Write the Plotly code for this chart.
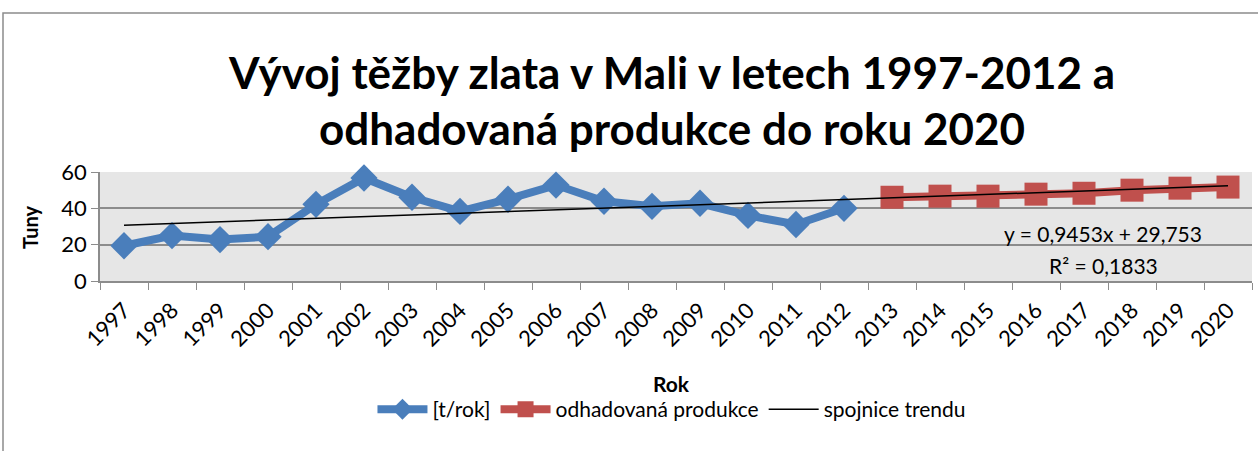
import plotly.graph_objects as go

# data
years = [str(y) for y in range(1997, 2021)]
actual_years = years[:16]
actual_t = [19.4, 25.0, 22.8, 24.4, 42.2, 56.7, 46.1, 38.3, 45.0, 52.8, 43.9, 41.1, 42.8, 36.1, 31.1, 40.0]
forecast_years = years[16:]
forecast_t = [46.1, 46.7, 46.7, 47.8, 48.3, 50.0, 51.1, 51.7]
trend_years = ["1997", "2020"]
trend_t = [30.7, 52.4]

y_ticks = [0, 20, 40, 60]

blue = '#4a7ebb'
red = '#c0504d'
grey = '#8c8c8c'
canvas = '#e6e6e6'
font = 'Lato'

fig = go.Figure()
fig.add_trace(go.Scatter(x=actual_years, y=actual_t,
                         mode='lines+markers',
                         name='[t/rok]',
                         cliponaxis=False,
                         line=dict(color=blue, width=8),
                         marker=dict(symbol='diamond', size=21, color=blue)))
fig.add_trace(go.Scatter(x=forecast_years, y=forecast_t,
                         mode='lines+markers',
                         name='odhadovaná produkce',
                         cliponaxis=False,
                         line=dict(color=red, width=8),
                         marker=dict(symbol='square', size=23, color=red)))
fig.add_trace(go.Scatter(x=trend_years, y=trend_t,
                         mode='lines',
                         name='spojnice trendu',
                         cliponaxis=False,
                         line=dict(color='black', width=1.5)))

fig.update_layout(width=1258, height=451,
                  margin=dict(l=100, r=6, t=172, b=170),
                  plot_bgcolor=canvas,
                  paper_bgcolor='white',
                  font=dict(family=font, color='black'),
                  showlegend=True,
                  legend=dict(orientation='h', x=0.4965, xanchor='center',
                              y=-1.18, yanchor='middle',
                              font=dict(size=21), itemwidth=50,
                              traceorder='normal', tracegroupgap=0))

fig.update_xaxes(type='category', categoryorder='array', categoryarray=years,
                 tickangle=-45, tickfont=dict(size=22), ticklabelstandoff=6,
                 ticks='outside', ticklen=7, tickcolor=grey, tickson='boundaries',
                 showline=True, linecolor=grey, linewidth=1.5,
                 showgrid=False, range=[-0.5, 23.5])
fig.update_yaxes(range=[0, 60], tickvals=y_ticks, tickfont=dict(size=22),
                 ticks='outside', ticklen=7, tickcolor=grey,
                 showline=True, linecolor=grey, linewidth=1.5,
                 showgrid=True, gridcolor=grey, gridwidth=1.5, zeroline=False)

# title, axis titles, trend label
fig.add_annotation(text='<b>Vývoj těžby zlata v Mali v letech 1997-2012 a</b>',
                   xref='paper', yref='paper', x=0.4965, y=1.917,
                   xanchor='center', yanchor='middle', showarrow=False,
                   font=dict(size=44))
fig.add_annotation(text='<b>odhadovaná produkce do roku 2020</b>',
                   xref='paper', yref='paper', x=0.4965, y=1.404,
                   xanchor='center', yanchor='middle', showarrow=False,
                   font=dict(size=44))
fig.add_annotation(text='<b>Tuny</b>', textangle=-90,
                   xref='paper', yref='paper', x=-0.0608, y=0.495,
                   xanchor='center', yanchor='middle', showarrow=False,
                   font=dict(size=20))
fig.add_annotation(text='<b>Rok</b>',
                   xref='paper', yref='paper', x=0.4965, y=-0.936,
                   xanchor='center', yanchor='middle', showarrow=False,
                   font=dict(size=21))
fig.add_annotation(text='y = 0,9453x + 29,753',
                   xref='paper', yref='paper', x=0.8707, y=0.44,
                   xanchor='center', yanchor='middle', showarrow=False,
                   font=dict(size=21))
fig.add_annotation(text='R² = 0,1833',
                   xref='paper', yref='paper', x=0.8707, y=0.138,
                   xanchor='center', yanchor='middle', showarrow=False,
                   font=dict(size=21))

# outer chart border
fig.add_shape(type='rect', xref='paper', yref='paper',
              x0=-0.0842, x1=1.02, y0=-2.0, y1=2.459,
              line=dict(color=grey, width=1.5), layer='below')

fig.write_html("out.html", config={'displayModeBar': False},
               post_script="document.body.style.margin='0';")
